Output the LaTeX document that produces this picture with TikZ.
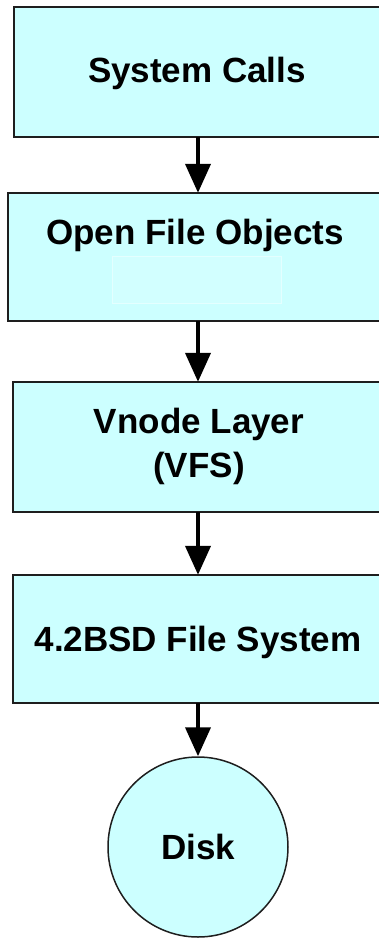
\documentclass[tikz,border=0pt]{standalone}
\usepackage{fontspec}
\setmainfont{Liberation Sans}
\usetikzlibrary{arrows.meta}
\definecolor{layerfill}{RGB}{204,255,255}
\definecolor{padfill}{RGB}{210,255,255}
\definecolor{edge}{RGB}{30,30,30}
\tikzset{
  layer/.style={fill=layerfill, rectangle, anchor=west,
    minimum width=450pt, minimum height=130pt, inner sep=0pt},
  rim/.style={draw=edge, line width=2pt},
  lbl/.style={inner sep=0pt, align=center, font=\fontsize{35}{44}\selectfont\bfseries},
  flow/.style={line width=4pt, -{Triangle[width=25pt,length=29pt]}},
}
\begin{document}
\begin{tikzpicture}[x=1pt,y=-1pt]
  \useasboundingbox (0,0) rectangle (378,938);
  % the layers of the file system stack; each runs on past the right edge,
  % so only its top, left and bottom sides are outlined
  \node[layer] (b1) at (14,72) {};
  \node[layer, minimum height=128pt] (b2) at (8,257) {};
  \node[layer] (b3) at (13,447) {};
  \node[layer, minimum height=128pt] (b4) at (13,639) {};
  \foreach \b in {b1,b2,b3,b4}
    \draw[rim] (\b.north east) -- (\b.north west) -- (\b.south west) -- (\b.south east);
  \node[lbl] (t1) at (197,73) {System Calls};
  \node[lbl] (t2) at (195,235) {Open File Objects};
  \node[draw=padfill!60!white, fill=padfill, line width=0.5pt, minimum width=169pt,
        minimum height=47pt, inner sep=0pt] (pad) at (197,280) {};
  \node[lbl] (t3) at (199,446) {Vnode Layer\\(VFS)};
  \node[lbl] (t4) at (198,642) {4.2BSD File System};
  % the storage device
  \node[circle, draw=edge, line width=1.5pt, fill=layerfill, minimum size=180pt,
        inner sep=0pt, font=\fontsize{35}{44}\selectfont\bfseries] (disk) at (198,847) {Disk};
  % downward flow between the layers
  \draw[flow] (disk.north |- b1.south) -- (disk.north |- b2.north);
  \draw[flow] (disk.north |- b2.south) -- (disk.north |- b3.north);
  \draw[flow] (disk.north |- b3.south) -- (disk.north |- b4.north);
  \draw[flow] (disk.north |- b4.south) -- (disk.north);
\end{tikzpicture}
\end{document}
